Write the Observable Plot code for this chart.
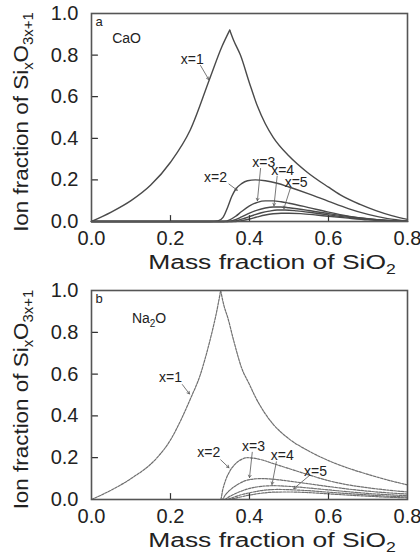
<!DOCTYPE html>
<html><head><meta charset="utf-8">
<script src="https://cdn.jsdelivr.net/npm/d3@7"></script>
<script src="https://cdn.jsdelivr.net/npm/@observablehq/plot@0.6"></script>
<style>
body{margin:0;background:#fff;}
#chart{width:420px;}
#chart svg{display:block;}
</style></head><body><div id="chart"></div>
<script>
// ---- tick values ----
const xTicks = [0, 0.2, 0.4, 0.6, 0.8];
const yTicks = [0, 0.2, 0.4, 0.6, 0.8, 1.0];
const xInnerTicks = [0.2, 0.4, 0.6];
const yInnerTicks = [0.2, 0.4, 0.6, 0.8];

// ---- panel a : CaO  (mass fraction SiO2, ion fraction) ----
const caoX1left = [[0,0],[0.05,0.045],[0.1,0.1],[0.15,0.175],[0.2,0.285],[0.25,0.44],[0.3,0.69],[0.33,0.84],[0.35,0.92]];
const caoX1right = [[0.35,0.92],[0.36,0.87],[0.377,0.8],[0.4,0.665],[0.42,0.555],[0.44,0.47],[0.46,0.405],[0.5,0.315],[0.546,0.237],[0.6,0.165],[0.63,0.128],[0.68,0.082],[0.72,0.052],[0.76,0.028],[0.8,0.01]];
const caoX2 = [[0,0],[0.3,0],[0.32,0.003],[0.333,0.02],[0.345,0.07],[0.355,0.12],[0.365,0.155],[0.38,0.182],[0.395,0.196],[0.415,0.2],[0.44,0.196],[0.47,0.184],[0.5,0.166],[0.55,0.133],[0.6,0.097],[0.65,0.062],[0.7,0.034],[0.75,0.014],[0.8,0.003]];
const caoX3 = [[0,0],[0.335,0],[0.35,0.008],[0.365,0.025],[0.38,0.048],[0.4,0.075],[0.42,0.092],[0.44,0.099],[0.46,0.099],[0.48,0.095],[0.5,0.088],[0.55,0.067],[0.6,0.045],[0.65,0.026],[0.7,0.013],[0.75,0.005],[0.8,0.001]];
const caoX4 = [[0,0],[0.345,0],[0.36,0.006],[0.38,0.022],[0.4,0.04],[0.42,0.055],[0.44,0.065],[0.46,0.07],[0.48,0.07],[0.5,0.066],[0.55,0.053],[0.6,0.038],[0.65,0.024],[0.7,0.012],[0.75,0.005],[0.8,0.001]];
const caoX5 = [[0,0],[0.355,0],[0.37,0.005],[0.39,0.017],[0.41,0.03],[0.43,0.042],[0.45,0.05],[0.47,0.055],[0.49,0.055],[0.52,0.051],[0.56,0.042],[0.6,0.032],[0.65,0.02],[0.7,0.01],[0.75,0.004],[0.8,0.001]];
const caoX6 = [[0,0],[0.365,0],[0.38,0.004],[0.4,0.012],[0.42,0.022],[0.44,0.031],[0.46,0.037],[0.48,0.04],[0.5,0.04],[0.53,0.038],[0.57,0.031],[0.6,0.025],[0.65,0.016],[0.7,0.008],[0.75,0.003],[0.8,0.0005]];

// ---- panel b : Na2O ----
const naX1left = [[0,0],[0.05,0.045],[0.1,0.1],[0.166,0.2],[0.2,0.285],[0.23,0.395],[0.25,0.48],[0.276,0.6],[0.29,0.69],[0.305,0.8],[0.317,0.9],[0.327,1.0]];
const naX1right = [[0.327,1.0],[0.335,0.93],[0.345,0.87],[0.36,0.76],[0.38,0.63],[0.4,0.55],[0.415,0.49],[0.44,0.41],[0.46,0.36],[0.5,0.29],[0.55,0.232],[0.6,0.186],[0.65,0.15],[0.7,0.12],[0.75,0.093],[0.8,0.07]];
const naX2 = [[0,0],[0.327,0],[0.332,0.045],[0.34,0.095],[0.35,0.135],[0.365,0.172],[0.38,0.192],[0.395,0.2],[0.41,0.198],[0.43,0.19],[0.46,0.172],[0.5,0.148],[0.55,0.118],[0.6,0.09],[0.65,0.07],[0.7,0.056],[0.75,0.045],[0.8,0.036]];
const naX3 = [[0,0],[0.33,0],[0.34,0.025],[0.355,0.052],[0.37,0.072],[0.39,0.09],[0.41,0.098],[0.43,0.1],[0.46,0.097],[0.5,0.088],[0.55,0.075],[0.6,0.062],[0.65,0.05],[0.7,0.04],[0.75,0.032],[0.8,0.026]];
const naX4 = [[0,0],[0.335,0],[0.35,0.015],[0.37,0.033],[0.4,0.053],[0.43,0.063],[0.46,0.066],[0.5,0.063],[0.55,0.055],[0.6,0.046],[0.65,0.037],[0.7,0.029],[0.75,0.023],[0.8,0.018]];
const naX5 = [[0,0],[0.34,0],[0.36,0.011],[0.38,0.023],[0.41,0.036],[0.44,0.045],[0.47,0.048],[0.5,0.047],[0.55,0.042],[0.6,0.035],[0.65,0.028],[0.7,0.022],[0.75,0.016],[0.8,0.012]];
const naX6 = [[0,0],[0.345,0],[0.37,0.009],[0.4,0.021],[0.43,0.03],[0.46,0.035],[0.5,0.036],[0.55,0.033],[0.6,0.027],[0.65,0.021],[0.7,0.016],[0.75,0.011],[0.8,0.008]];

// ---- annotations (label text, label position, arrow from -> to) in data units ----
const labelNames = ["x=1","x=2","x=3","x=4","x=5"];
const caoLabelPos = [[0.255,0.78],[0.314,0.213],[0.436,0.285],[0.484,0.245],[0.518,0.186]];
const caoArrows = [[0.276,0.75,0.297,0.682],[0.348,0.18,0.369,0.15],[0.428,0.255,0.42,0.1],[0.47,0.218,0.462,0.076],[0.504,0.163,0.487,0.062]];
const naLabelPos = [[0.2,0.585],[0.297,0.226],[0.41,0.255],[0.483,0.21],[0.567,0.135]];
const naArrows = [[0.23,0.55,0.248,0.505],[0.327,0.19,0.348,0.152],[0.407,0.226,0.4,0.105],[0.468,0.18,0.457,0.072],[0.55,0.112,0.512,0.052]];

const FONT = "Liberation Sans, Arial, Helvetica, sans-serif";
const fmt = d3.format(".1f");

function toRows(series) {
  const rows = [];
  series.forEach(([name, pts]) => pts.forEach(([x, y]) => rows.push({s: name, x, y})));
  return rows;
}

const tickUp = {draw(ctx, l) { ctx.moveTo(0, 0); ctx.lineTo(0, -l); }};
const tickRight = {draw(ctx, l) { ctx.moveTo(0, 0); ctx.lineTo(l, 0); }};

function panel({series, dashed, labelPos, arrows, marginTop, marginBottom, height, letter}) {
  const rows = toRows(series);
  const lineColor = dashed ? "#707070" : "#4a4a4a";
  const labels = labelNames.map((t, i) => ({t, x: labelPos[i][0], y: labelPos[i][1]}));
  const arr = arrows.map(([x1, y1, x2, y2]) => ({x1, y1, x2, y2}));
  return Plot.plot({
    width: 420, height, marginLeft: 91, marginRight: 13, marginTop, marginBottom,
    style: {fontFamily: FONT, background: "white", color: "#222"},
    x: {domain: [0, 0.8]},
    y: {domain: [0, 1]},
    marks: [
      Plot.line(rows, {x: "x", y: "y", z: "s", curve: "monotone-x", stroke: lineColor,
        strokeWidth: dashed ? 1.2 : 1.4, strokeDasharray: dashed ? "2.5,1.2" : null}),
      Plot.arrow(arr, {x1: "x1", y1: "y1", x2: "x2", y2: "y2", stroke: "#555", strokeWidth: 0.8, headLength: 5, bend: 0}),
      Plot.text(labels, {x: "x", y: "y", text: "t", fontSize: 14, fill: "#222"}),
      Plot.vector(xInnerTicks, {x: d => d, y: 0, rotate: 0, length: 6, anchor: "start", shape: tickUp, stroke: "#333", strokeWidth: 1.2}),
      Plot.vector(yInnerTicks, {x: 0, y: d => d, rotate: 0, length: 6, anchor: "start", shape: tickRight, stroke: "#333", strokeWidth: 1.2}),
      Plot.axisX(xTicks, {tickSize: 0, tickPadding: 9, tickFormat: fmt, fontSize: 20, label: null}),
      Plot.axisY(yTicks, {tickSize: 0, tickPadding: 13, tickFormat: fmt, fontSize: 20, label: null}),
      Plot.frame({stroke: "#555", strokeWidth: 1.6}),
      Plot.text([letter], {frameAnchor: "top-left", dx: 4, dy: 3, text: d => d, fontSize: 13, fill: "#222"})
    ]
  });
}

function fit(sel, cx, cy, target, rotate) {
  const w = sel.node().getBBox().width;
  const s = target / w;
  sel.attr("transform", `translate(${cx},${cy}) rotate(${rotate}) scale(${s},1)`);
}

function decorate(plot, oxideParts, oxidePos, titleDy) {
  const svg = d3.select(plot);
  const sx = plot.scale("x"), sy = plot.scale("y");
  const x0 = sx.apply(0), x1 = sx.apply(0.8), y0 = sy.apply(0), y1 = sy.apply(1);
  // x title
  const xt = svg.append("text").attr("text-anchor", "middle").attr("font-family", FONT).attr("fill", "#222");
  xt.append("tspan").attr("font-size", 21).text("Mass fraction of SiO");
  xt.append("tspan").attr("font-size", 14).attr("dy", 5).text("2");
  fit(xt, (x0 + x1) / 2 + 23, y0 + titleDy, 248, 0);
  // y title
  const yt = svg.append("text").attr("text-anchor", "middle").attr("font-family", FONT).attr("fill", "#222");
  yt.append("tspan").attr("font-size", 21).text("Ion fraction of Si");
  yt.append("tspan").attr("font-size", 14).attr("dy", 5).text("x");
  yt.append("tspan").attr("font-size", 21).attr("dy", -5).text("O");
  yt.append("tspan").attr("font-size", 14).attr("dy", 5).text("3x+1");
  fit(yt, 28, (y0 + y1) / 2 + 5, 220, -90);
  // oxide label
  const ot = svg.append("text").attr("x", sx.apply(oxidePos[0])).attr("y", sy.apply(oxidePos[1]) + 5)
    .attr("text-anchor", "middle").attr("font-family", FONT).attr("fill", "#222");
  let shift = 0;
  oxideParts.forEach(([t, s]) => {
    const d = s ? 4 - shift : -shift;
    shift = s ? 4 : 0;
    ot.append("tspan").attr("font-size", s ? 10 : 14).attr("dy", d).text(t);
  });
}

const plotA = panel({
  series: [["x1L", caoX1left], ["x1R", caoX1right], ["x2", caoX2], ["x3", caoX3], ["x4", caoX4], ["x5", caoX5], ["x6", caoX6]],
  dashed: false, labelPos: caoLabelPos, arrows: caoArrows,
  height: 279, marginTop: 13, marginBottom: 58, letter: "a"
});
const plotB = panel({
  series: [["x1L", naX1left], ["x1R", naX1right], ["x2", naX2], ["x3", naX3], ["x4", naX4], ["x5", naX5], ["x6", naX6]],
  dashed: true, labelPos: naLabelPos, arrows: naArrows,
  height: 279, marginTop: 11, marginBottom: 59, letter: "b"
});
document.getElementById("chart").append(plotA, plotB);
decorate(plotA, [["CaO", 0]], [0.09, 0.878], 48);
decorate(plotB, [["Na", 0], ["2", 1], ["O", 0]], [0.147, 0.865], 48);
</script>
</body></html>
